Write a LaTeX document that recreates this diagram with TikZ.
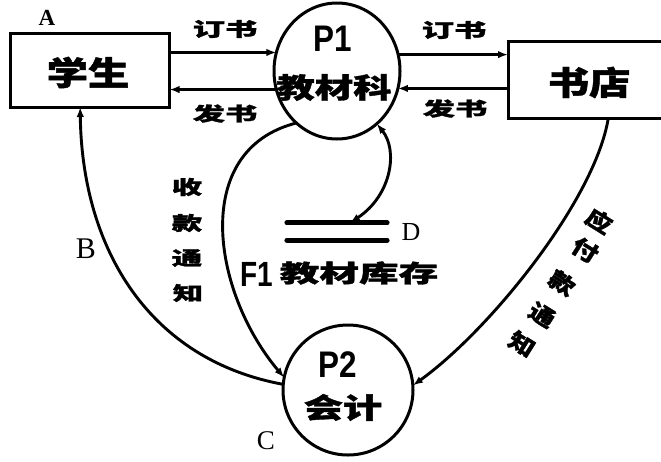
\documentclass[tikz,border=0pt]{standalone}
\usepackage{fontspec}
\usepackage{graphicx}
\setmainfont{Liberation Serif}
\newfontfamily\cjk[BoldFeatures={FakeBold=1.2}]{Noto Sans CJK SC}
\newfontfamily\lsans{Liberation Sans}
\usetikzlibrary{arrows.meta,shapes.geometric,calc}

% Chinese text: size, horizontal stretch, text
\newcommand\zh[3]{\scalebox{#2}[1]{\fontsize{#1}{#1}\selectfont\cjk\bfseries #3}}
% process / store identifiers in bold sans
\newcommand\pid[3]{\scalebox{#2}[1]{\fontsize{#1}{#1}\selectfont\lsans\bfseries #3}}
% corner letters in serif
\newcommand\lettag[2]{{\fontsize{#1}{#1}\selectfont #2}}

\begin{document}
\begin{tikzpicture}[x=1pt,y=-1pt,
  box/.style={draw, line width=3pt, rectangle, inner sep=0pt, outer sep=0pt},
  proc/.style={draw, line width=3pt, ellipse, inner sep=0pt, outer sep=0pt},
  txt/.style={inner sep=0pt},
  flow/.style={line width=2.9pt, -{Latex[length=10pt,width=7.5pt]}},
  flowboth/.style={line width=2.9pt, {Latex[length=10pt,width=7.5pt]}-{Latex[length=10pt,width=7.5pt]}},
  storeline/.style={line width=4.8pt, line cap=round}]

\path[use as bounding box, fill=white] (0,0) rectangle (661,461);

% external entities
\node[box, minimum width=159.5pt, minimum height=74pt] (stu) at (89.75,70) {};
\node[txt] (stuname) at (88,72.5) {\zh{33}{1.25}{学生}};
\node[box, minimum width=160pt, minimum height=76.5pt] (shop) at (588,79.75) {};
\node[txt] (shopname) at (589,82.5) {\zh{33}{1.25}{书店}};

% processes
\node[proc, minimum width=126pt, minimum height=136pt] (p1) at (337,71) {};
\node[txt] (p1num) at (333,39) {\pid{37}{0.85}{P1}};
\node[txt] (p1name) at (334,87.5) {\zh{28}{1.37}{教材科}};
\node[proc, minimum width=130pt, minimum height=130pt] (p2) at (348,390) {};
\node[txt] (p2num) at (338,365) {\pid{37}{0.85}{P2}};
\node[txt] (p2name) at (343,407.5) {\zh{28}{1.4}{会计}};

% data store
\node[inner sep=0pt, minimum width=100pt, minimum height=17pt] (ds) at (337,231.5) {};
\draw[storeline] (ds.north west) -- (ds.north east);
\draw[storeline] (ds.south west) -- (ds.south east);
\node[txt] (dsid) at (257,274.5) {\pid{35}{0.8}{F1}};
\node[txt] (dsname) at (359,273) {\zh{24}{1.65}{教材库存}};

% corner letters
\node[txt] (la) at (47,17.5) {\lettag{23}{\bfseries A}};
\node[txt] (lb) at (86,249) {\lettag{30}{B}};
\node[txt] (lc) at (266,441) {\lettag{27}{C}};
\node[txt] (ld) at (411,232) {\lettag{26}{D}};

% flow labels
\node[txt] (order1) at (225,29) {\zh{19}{1.7}{订书}};
\node[txt] (send1) at (225,113.5) {\zh{19}{1.7}{发书}};
\node[txt] (order2) at (454,30) {\zh{19}{1.7}{订书}};
\node[txt] (send2) at (455,108.5) {\zh{19}{1.7}{发书}};

\foreach \c/\x/\y [count=\i] in {收/187/187, 款/187/223, 通/187/258, 知/188/293}
  \node[txt] (recv\i) at (\x,\y) {\zh{19}{1.6}{\c}};

\foreach \c/\x/\y [count=\i] in {应/599/221, 付/585/250, 款/562/283, 通/542/315, 知/522/344}
  \node[txt, rotate=-32] (pay\i) at (\x,\y) {\zh{22}{1.2}{\c}};

% flows between entities and processes
\draw[flow] (stu.east |- p1.163) -- (p1.163);
\draw[flow] (p1.197) -- (stu.east |- p1.197);
\draw[flow] (p1.15) -- (shop.west |- p1.15);
\draw[flow] (shop.west |- p1.-16) -- (p1.-16);

\coordinate (stufoot) at ($(stu.south west)!0.44!(stu.south east)$);
\draw[flow] (p2.175) .. controls (150,360) and (82,250) .. (stufoot);

\draw[flow] (p1.232) .. controls (190,150) and (212,292) .. (p2.169);

\coordinate (dstop) at ($(ds.north west)!0.63!(ds.north east)$);
\draw[flowboth] (p1.-53) .. controls (398,150) and (392,195) .. (dstop);

\coordinate (shopfoot) at ($(shop.south west)!0.627!(shop.south east)$);
\draw[flow] (shopfoot) .. controls (595,200) and (490,330) .. (p2.4);
\end{tikzpicture}
\end{document}
